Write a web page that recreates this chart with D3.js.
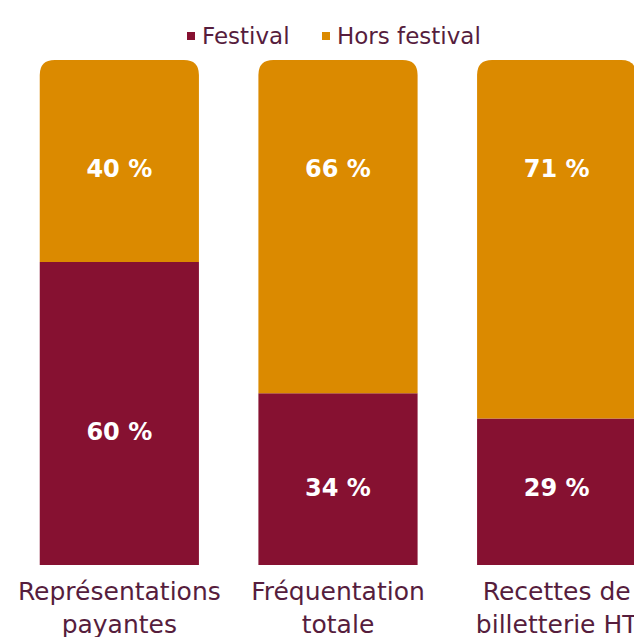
<!DOCTYPE html>
<html>
<head>
<meta charset="utf-8">
<script src="https://cdn.jsdelivr.net/npm/d3@7"></script>
<style>
  body { margin: 0; background: #fff; }
  svg { display: block; }
</style>
</head>
<body>
<svg width="634" height="637"></svg>
<script>
const categories = [['Représentations', 'payantes'], ['Fréquentation', 'totale'], ['Recettes de', 'billetterie HT']];
const festival = [60, 34, 29];
const horsFestival = [40, 66, 71];
const seriesNames = ['Festival', 'Hors festival'];
const colors = ['#861131', '#DB8A00'];

function drawBarchart() {
    const svg = d3.select('svg');
    const font = '"DejaVu Sans", sans-serif';
    const textColor = '#561d3d';

    const data = categories.map((c, i) => ({ key: i, Festival: festival[i], 'Hors festival': horsFestival[i] }));
    const stack = d3.stack().keys(seriesNames)(data);

    const xScale = d3.scaleBand()
        .domain(data.map(d => d.key))
        .range([10, 666])
        .paddingInner(0.272)
        .paddingOuter(0.136);
    const yScale = d3.scaleLinear()
        .domain([0, 100])
        .range([565, 60]);
    const r = 15;

    // Bars
    stack.forEach((layer, li) => {
        svg.append('g')
            .selectAll('path')
            .data(layer)
            .join('path')
            .attr('fill', colors[li])
            .attr('d', d => {
                const x0 = xScale(d.data.key), x1 = x0 + xScale.bandwidth();
                const y0 = yScale(d[0]), y1 = yScale(d[1]);
                if (li === stack.length - 1) {
                    return `M${x0},${y0}V${y1 + r}Q${x0},${y1} ${x0 + r},${y1}H${x1 - r}Q${x1},${y1} ${x1},${y1 + r}V${y0}Z`;
                }
                return `M${x0},${y0}V${y1}H${x1}V${y0}Z`;
            });

        // value labels (placed like the original: top ones aligned, bottom ones kept low)
        svg.append('g')
            .selectAll('text')
            .data(layer)
            .join('text')
            .text(d => `${d[1] - d[0]} %`)
            .attr('x', d => xScale(d.data.key) + xScale.bandwidth() / 2)
            .attr('y', d => li === 0
                ? Math.min(yScale(d[1]) + 178, 496)
                : yScale(d[1]) + 117)
            .style('text-anchor', 'middle')
            .style('font-family', font)
            .style('font-weight', 'bold')
            .style('font-size', '24px')
            .attr('fill', '#fff');
    });

    // Category labels
    categories.forEach((lines, i) => {
        const cx = xScale(i) + xScale.bandwidth() / 2;
        const t = svg.append('text')
            .attr('y', 600)
            .style('text-anchor', 'middle')
            .style('font-family', font)
            .style('font-size', '25px')
            .attr('fill', textColor);
        lines.forEach((l, j) => {
            t.append('tspan')
                .attr('x', cx)
                .attr('dy', j === 0 ? 0 : 33)
                .text(l);
        });
    });

    // Legend
    const legendX = [187, 322];
    seriesNames.forEach((name, i) => {
        const g = svg.append('g').attr('transform', `translate(${legendX[i]}, 44)`);
        g.append('rect')
            .attr('x', 0)
            .attr('y', -12)
            .attr('width', 8)
            .attr('height', 8)
            .attr('fill', colors[i]);
        g.append('text')
            .text(name)
            .attr('x', 15)
            .attr('y', 0)
            .style('font-family', font)
            .style('font-size', '23px')
            .attr('fill', textColor);
    });
}

drawBarchart();
</script>
</body>
</html>
